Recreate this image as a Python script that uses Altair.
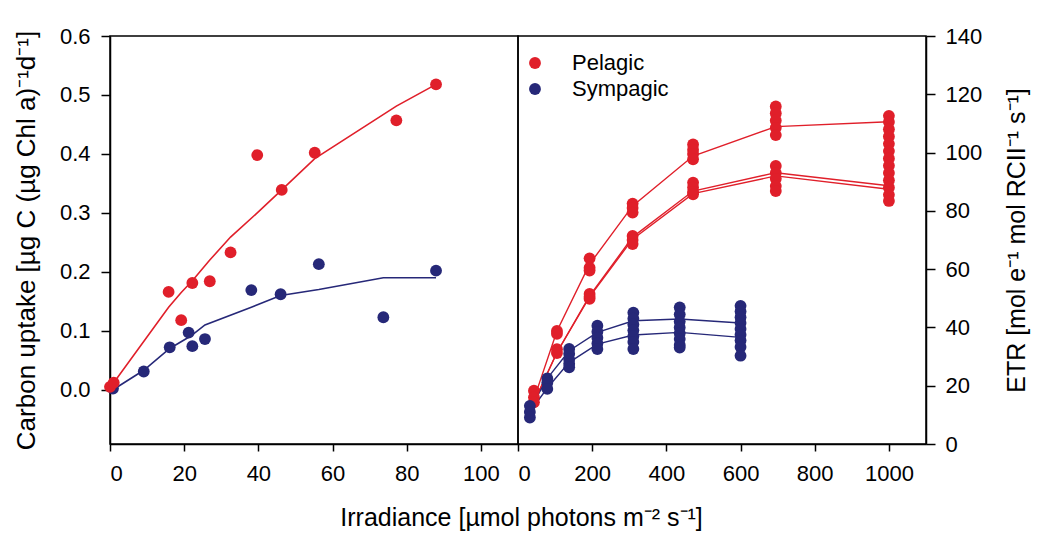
import altair as alt
import pandas as pd

RED = "#E01F2A"
BLUE = "#262878"
FONT = "Liberation Sans"

# ---------- Left panel: carbon uptake vs irradiance ----------
pel_c_x = [0, 1, 15.8, 19.2, 22.2, 26.9, 32.5, 39.7, 46.3, 55.2, 77.2, 87.9]
pel_c_y = [0.005, 0.012, 0.166, 0.118, 0.181, 0.184, 0.233, 0.398, 0.339, 0.402, 0.457, 0.518]
pel_c_fit = [0.005, 0.012, 0.140, 0.165, 0.185, 0.220, 0.259, 0.300, 0.339, 0.392, 0.481, 0.518]

sym_c_x = [0.8, 9.1, 16.1, 21.2, 22.2, 25.6, 38.1, 46.0, 56.3, 73.7, 87.9]
sym_c_y = [0.002, 0.031, 0.072, 0.097, 0.074, 0.086, 0.169, 0.162, 0.213, 0.123, 0.202]
sym_c_fit = [0.000, 0.033, 0.070, 0.089, 0.093, 0.110, 0.140, 0.160, 0.170, 0.190, 0.190]

# ---------- Right panel: ETR vs irradiance ----------
pel_levels = [43, 105, 193, 309, 472, 695, 1000]
pel_etr = [
    [18.3, 16.0, 14.3],
    [38.8, 37.8, 32.5, 31.2],
    [63.7, 60.5, 59.5, 51.5, 50.5, 49.8],
    [82.5, 81.0, 79.4, 71.4, 70.0, 68.6],
    [102.8, 101.0, 99.5, 97.7, 89.7, 88.0, 86.5, 85.7],
    [115.8, 113.5, 111.0, 108.5, 106.0, 95.4, 93.0, 91.0, 88.5, 86.8],
    [112.6, 110.5, 108.0, 105.5, 103.0, 100.5, 98.0, 95.5, 93.0, 90.5, 88.0, 85.5, 83.4],
]
pel_fit_a = [15.4, 38.8, 61.7, 81.7, 98.8, 108.9, 110.6]
pel_fit_b = [14.3, 31.4, 50.8, 71.0, 86.8, 93.1, 88.6]
pel_fit_c = [14.3, 31.4, 50.5, 70.3, 85.9, 92.0, 87.4]

sym_levels = [32, 79, 138, 214, 311, 436, 600]
sym_etr = [
    [13.1, 11.0, 9.1],
    [22.5, 21.0, 18.9],
    [32.6, 31.0, 29.0, 27.5, 26.3],
    [40.6, 38.5, 36.5, 34.5, 32.6],
    [45.1, 43.0, 41.0, 39.0, 37.0, 35.0, 32.6],
    [46.9, 44.5, 42.0, 40.0, 38.0, 36.0, 34.0, 33.1],
    [47.4, 45.5, 43.5, 41.5, 39.5, 37.5, 35.5, 33.3, 30.3],
]
sym_fit_a = [12.0, 22.5, 32.0, 38.3, 42.3, 42.9, 41.5]
sym_fit_b = [11.0, 19.2, 28.0, 34.3, 37.4, 38.3, 36.6]

groups = ["Pelagic", "Sympagic"]

# ---------- Build tables ----------
left_pts = pd.DataFrame(
    [{"x": x, "y": y, "g": "Sympagic"} for x, y in zip(sym_c_x, sym_c_y)]
    + [{"x": x, "y": y, "g": "Pelagic"} for x, y in zip(pel_c_x, pel_c_y)]
)
left_fit = pd.DataFrame(
    [{"x": x, "y": y, "g": "Sympagic"} for x, y in zip(sym_c_x, sym_c_fit)]
    + [{"x": x, "y": y, "g": "Pelagic"} for x, y in zip(pel_c_x, pel_c_fit)]
)

rows = []
for x, vals in zip(pel_levels, pel_etr):
    rows += [{"x": x, "y": v, "g": "Pelagic"} for v in vals]
for x, vals in zip(sym_levels, sym_etr):
    rows += [{"x": x, "y": v, "g": "Sympagic"} for v in vals]
right_pts = pd.DataFrame(rows)

frows = []
for cid, fit in (("pa", pel_fit_a), ("pb", pel_fit_b), ("pc", pel_fit_c)):
    frows += [{"x": x, "y": v, "g": "Pelagic", "c": cid} for x, v in zip(pel_levels, fit)]
for cid, fit in (("sa", sym_fit_a), ("sb", sym_fit_b)):
    frows += [{"x": x, "y": v, "g": "Sympagic", "c": cid} for x, v in zip(sym_levels, fit)]
right_fit = pd.DataFrame(frows)

PT = 140
color_scale = alt.Scale(domain=groups, range=[RED, BLUE])
LEG = alt.Legend(title=None, orient="none", legendX=414, legendY=16,
                 symbolType="circle", symbolSize=PT, symbolOpacity=1,
                 symbolStrokeWidth=0, labelFontSize=22, labelFont=FONT,
                 labelColor="black", labelOffset=26, rowPadding=4)
col = alt.Color("g:N", scale=color_scale, legend=LEG)

# ---------- Left chart ----------
lx = alt.X("x:Q", scale=alt.Scale(domain=[0, 110], nice=False),
           axis=alt.Axis(values=[0, 20, 40, 60, 80, 100], title=None,
                         tickSize=7, labelPadding=12))
ly = alt.Y("y:Q", scale=alt.Scale(domain=[-0.092, 0.6], nice=False, zero=False),
           axis=alt.Axis(values=[0, 0.1, 0.2, 0.3, 0.4, 0.5, 0.6], format=".1f",
                         title="Carbon uptake [µg C (µg Chl a)⁻¹d⁻¹]",
                         titleFontSize=26, titleLimit=600,
                         titlePadding=20, tickSize=9, labelPadding=11))

left_line = alt.Chart(left_fit).mark_line(strokeWidth=1.6).encode(
    x=lx, y=ly, color=col, detail="g:N")
left_point = alt.Chart(left_pts).mark_circle(size=PT, opacity=1).encode(
    x=lx, y=ly, color=col)
left = alt.layer(left_line, left_point).properties(width=408, height=408)

# ---------- Right chart ----------
rx = alt.X("x:Q", scale=alt.Scale(domain=[0, 1100], nice=False),
           axis=alt.Axis(values=[0, 200, 400, 600, 800, 1000], format="d", title=None,
                         tickSize=7, labelPadding=12))
ry = alt.Y("y:Q", scale=alt.Scale(domain=[0, 140], nice=False),
           axis=alt.Axis(orient="right", values=list(range(0, 141, 20)),
                         title="ETR [mol e⁻¹ mol RCII⁻¹ s⁻¹]", titleAngle=270,
                         titleBaseline="top", titlePadding=23, titleLimit=600,
                         tickSize=9, labelPadding=10))

right_line = alt.Chart(right_fit).mark_line(strokeWidth=1.4).encode(
    x=rx, y=ry, color=col, detail="c:N")
right_point = alt.Chart(right_pts).mark_circle(size=PT, opacity=1).encode(
    x=rx, y=ry, color=col)
right = alt.layer(right_line, right_point).properties(width=408, height=408)

chart = alt.hconcat(left, right, spacing=0, bounds="flush").properties(
    title=alt.TitleParams(text="Irradiance [µmol photons m⁻² s⁻¹]", orient="bottom",
                          anchor="middle", fontSize=25, font=FONT,
                          fontWeight="normal", color="black", offset=21),
    padding={"left": 12, "top": 24, "right": 5, "bottom": 5},
    background="white",
).configure_view(
    stroke="black", strokeWidth=1.5
).configure_axis(
    grid=False, labelFont=FONT, labelFontSize=22, labelColor="black",
    titleFont=FONT, titleFontSize=25, titleFontWeight="normal", titleColor="black",
    domainColor="black", domainWidth=1.5, tickColor="black", tickWidth=1.5
)

chart.save("out.html", embed_options={"renderer": "svg", "actions": False})
